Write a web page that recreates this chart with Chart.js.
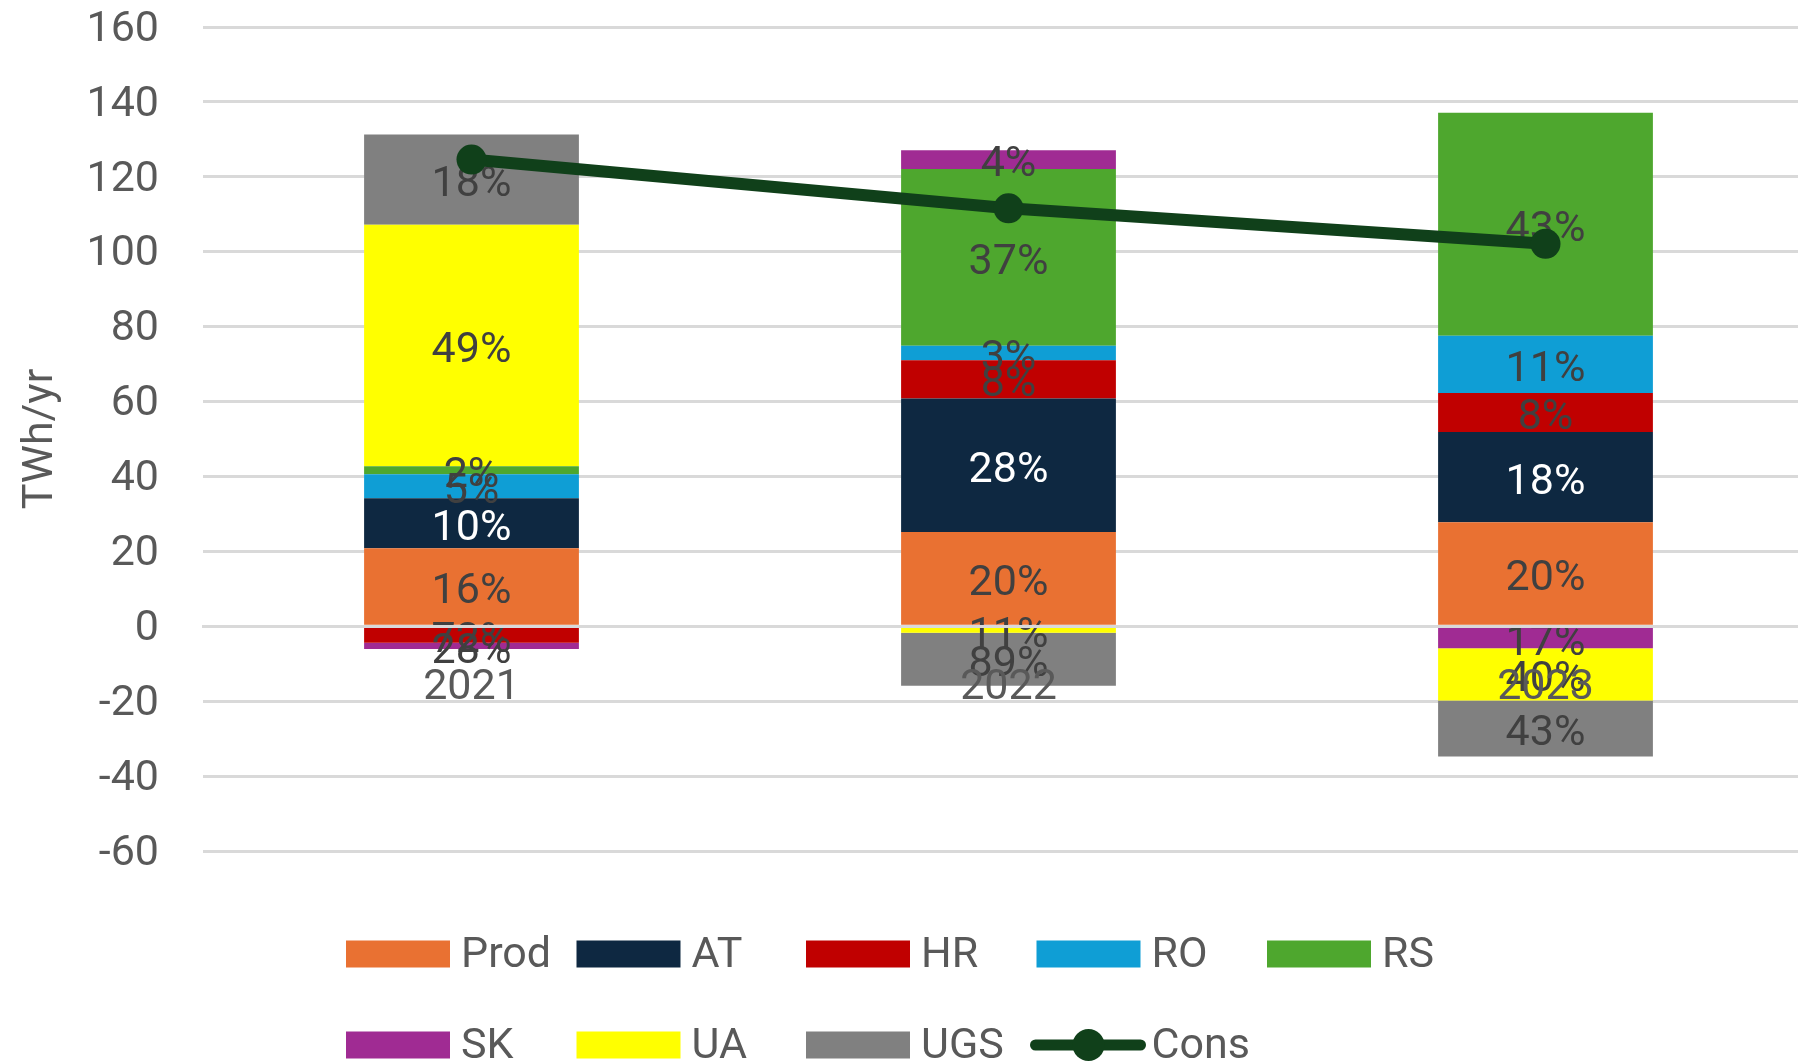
<!DOCTYPE html>
<html>
<head>
<meta charset="utf-8">
<script src="https://cdn.jsdelivr.net/npm/chart.js@4"></script>
<style>
  html, body { margin: 0; padding: 0; background: #fff; overflow: hidden; }
  #wrap { width: 1829px; height: 1062px; }
</style>
</head>
<body>
<div id="wrap"><canvas id="chart"></canvas></div>
<script>
'use strict';

// values in TWh/yr
const years = ['2021', '2022', '2023'];
const prod = [20.8, 25.2, 27.8];
const at   = [13.4, 35.6, 24.1];
const hr   = [-4.4, 10.2, 10.4];
const ro   = [6.4, 3.9, 15.3];
const rs   = [2.1, 47.2, 59.5];
const sk   = [-1.7, 5.0, -5.9];
const ua   = [64.5, -1.75, -13.9];
const ugs  = [24.1, -14.15, -15.0];
const cons = [124.6, 111.6, 102.1];

const FONT = 'Roboto, "Liberation Sans", sans-serif';
const FSIZE = 43;
const GREY_TXT = '#595959';
const LABEL_TXT = '#404040';
const GRID = '#d9d9d9';

const barSeries = [
  { label: 'Prod', data: prod, color: '#E97132', text: LABEL_TXT },
  { label: 'AT',   data: at,   color: '#0E2841', text: '#ffffff' },
  { label: 'HR',   data: hr,   color: '#C00000', text: LABEL_TXT },
  { label: 'RO',   data: ro,   color: '#0F9ED5', text: LABEL_TXT },
  { label: 'RS',   data: rs,   color: '#4EA72E', text: LABEL_TXT },
  { label: 'SK',   data: sk,   color: '#A02B93', text: LABEL_TXT },
  { label: 'UA',   data: ua,   color: '#FFFF00', text: LABEL_TXT },
  { label: 'UGS',  data: ugs,  color: '#808080', text: LABEL_TXT },
];
const LINE_COLOR = '#10401A';

const datasets = barSeries.map(s => ({
  type: 'bar',
  label: s.label,
  data: s.data,
  backgroundColor: s.color,
  borderWidth: 0,
  order: 1,
  categoryPercentage: 1,
  barPercentage: 0.4,
}));
datasets.push({
  type: 'line',
  label: 'Cons',
  data: cons,
  borderColor: LINE_COLOR,
  backgroundColor: LINE_COLOR,
  borderWidth: 12,
  pointRadius: 15,
  pointBorderWidth: 0,
  pointBackgroundColor: LINE_COLOR,
  stack: 'cons',
  order: 0,
});

// share of each segment within the positive or negative part of its bar
function shareLabel(dsIndex, j) {
  const v = barSeries[dsIndex].data[j];
  let total = 0;
  for (const s of barSeries) {
    const w = s.data[j];
    if ((w >= 0) === (v >= 0)) total += Math.abs(w);
  }
  return Math.round(Math.abs(v) / total * 100) + '%';
}

// percent labels go on top of the bars but under the Cons line
const segmentLabels = {
  id: 'segmentLabels',
  beforeDatasetDraw(chart, args) {
    if (args.meta.type !== 'line') return;
    const ctx = chart.ctx;
    ctx.save();
    ctx.font = `${FSIZE}px ${FONT}`;
    ctx.textAlign = 'center';
    ctx.textBaseline = 'middle';
    barSeries.forEach((s, i) => {
      const meta = chart.getDatasetMeta(i);
      meta.data.forEach((el, j) => {
        const p = el.getCenterPoint();
        ctx.fillStyle = s.text;
        ctx.fillText(shareLabel(i, j), p.x, p.y + 6);
      });
    });
    ctx.restore();
  }
};

// Excel-style legend laid out in fixed columns
const gridLegend = {
  id: 'gridLegend',
  afterDraw(chart) {
    const ctx = chart.ctx;
    const colX = [346, 576.5, 806, 1036.5, 1267];
    const rowY = [954, 1045];
    ctx.save();
    ctx.font = `${FSIZE}px ${FONT}`;
    ctx.textBaseline = 'middle';
    ctx.textAlign = 'left';
    chart.data.datasets.forEach((ds, k) => {
      const x = colX[k % 5];
      const y = rowY[Math.floor(k / 5)];
      if (ds.type === 'line') {
        ctx.strokeStyle = ds.borderColor;
        ctx.lineWidth = 11;
        ctx.lineCap = 'round';
        ctx.beginPath();
        ctx.moveTo(x - 1, y);
        ctx.lineTo(x + 104, y);
        ctx.stroke();
        ctx.fillStyle = ds.borderColor;
        ctx.beginPath();
        ctx.arc(x + 52, y, 16, 0, Math.PI * 2);
        ctx.fill();
      } else {
        ctx.fillStyle = ds.backgroundColor;
        ctx.fillRect(x, y - 13.5, 104, 27);
      }
      ctx.fillStyle = GREY_TXT;
      ctx.fillText(ds.label, x + 115, y + 2);
    });
    ctx.restore();
  }
};

new Chart(document.getElementById('chart'), {
  data: { labels: years, datasets },
  options: {
    responsive: true,
    maintainAspectRatio: false,
    animation: false,
    events: [],
    layout: { padding: { top: 27, right: 6, bottom: 211, left: 0 } },
    plugins: {
      legend: { display: false },
      tooltip: { enabled: false },
    },
    scales: {
      x: {
        stacked: true,
        position: { y: 0 },
        afterFit(scale) { scale.height = 0; },
        grid: { display: false, drawTicks: false },
        border: { display: true, color: GRID, width: 3, z: 1 },
        ticks: {
          z: 1,
          padding: 36,
          color: GREY_TXT,
          font: { family: FONT, size: FSIZE },
        },
      },
      y: {
        stacked: true,
        min: -60,
        max: 160,
        afterFit(scale) { scale.width = 203; },
        // invisible tick marks keep the labels clear of the plot
        grid: { color: GRID, lineWidth: 3, drawTicks: true, tickLength: 44, tickColor: 'rgba(0,0,0,0)' },
        border: { display: false },
        ticks: {
          stepSize: 20,
          padding: 0,
          labelOffset: 3,
          color: GREY_TXT,
          font: { family: FONT, size: FSIZE },
        },
        title: {
          display: true,
          text: 'TWh/yr',
          color: GREY_TXT,
          font: { family: FONT, size: FSIZE },
          padding: { top: 15, bottom: 0 },
        },
      },
    },
  },
  plugins: [segmentLabels, gridLegend],
});
</script>
</body>
</html>
